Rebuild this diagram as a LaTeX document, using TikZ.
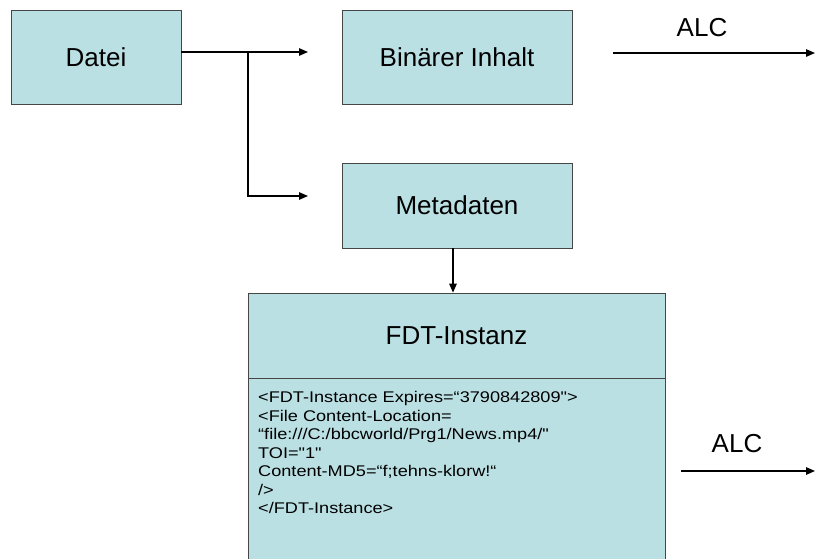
\documentclass[tikz,border=0pt]{standalone}
\usepackage{fontspec}
\setmainfont{Liberation Sans}
\newfontfamily\fdtfont[FakeStretch=1.17]{Liberation Sans}
\definecolor{boxblue}{RGB}{186,224,227}
\definecolor{boxline}{RGB}{70,70,70}
\usetikzlibrary{arrows.meta,positioning}

\begin{document}
\begin{tikzpicture}[x=1pt, y=-1pt,
    block/.style={draw=boxline, fill=boxblue, line width=0.8pt,
                  inner sep=0pt, font=\fontsize{26}{30}\selectfont},
    arr/.style={-{Triangle[length=9pt,width=7.5pt]}, line width=1.3pt, black},
    lbl/.style={font=\fontsize{26}{30}\selectfont}
  ]
    \useasboundingbox (0,0) rectangle (815,558);

    % Datei
    \node[block, minimum width=170, minimum height=94] (datei) at (96,57) {Datei};

    % Binaerer Inhalt
    \node[block, minimum width=230, minimum height=94] (binaer) at (457,57) {Binärer Inhalt};

    % Metadaten
    \node[block, minimum width=230, minimum height=85] (meta) at (457,205.5) {Metadaten};

    % FDT-Instanz (title + body)
    \node[block, minimum width=417, minimum height=85] (fdt) at (456.5,335.5) {FDT-Instanz};
    \node[block, minimum width=417, minimum height=200, below=0pt of fdt] (fdtbody) {};
    \node[anchor=north west, align=left, inner sep=0pt,
          font=\fdtfont\fontsize{15.5}{18.5}\selectfont] (fdttext) at (258,391.5)
      {<FDT-Instance Expires=“3790842809">\\
       <File Content-Location=\\
       “file:///C:/bbcworld/Prg1/News.mp4/"\\
       TOI="1"\\
       Content-MD5=“f;tehns-klorw!“\\
       />\\
       </FDT-Instance>};

    % Verzweigung von Datei
    \coordinate (split) at (248,52);
    \coordinate (bintip) at (308,52);
    \coordinate (metatip) at (308,196);
    \draw[arr] (datei.east |- split) -- (bintip);
    \draw[arr] (split) |- (metatip);

    % Metadaten -> FDT
    \draw[arr] ([xshift=-4pt]meta.south) -- ([xshift=-4pt]meta.south |- fdt.north);

    % ALC oben
    \coordinate (alcA) at (613,53);
    \coordinate (alcB) at (815,53);
    \draw[arr] (alcA) -- (alcB);
    \node[lbl] (alcup) at (702,28) {ALC};

    % ALC unten
    \coordinate (alcC) at (681,471);
    \coordinate (alcD) at (815,471);
    \draw[arr] (alcC) -- (alcD);
    \node[lbl] (alcdown) at (737,444) {ALC};
\end{tikzpicture}
\end{document}
